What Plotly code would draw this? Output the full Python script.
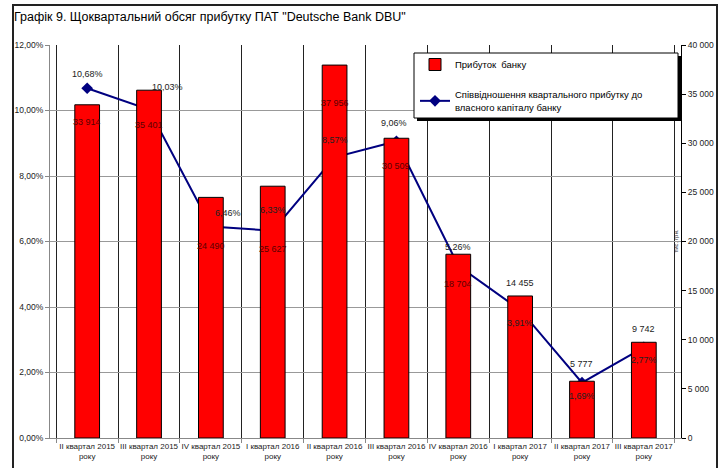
import plotly.graph_objects as go

categories = ["II квартал 2015<br>року", "III квартал 2015<br>року", "IV квартал 2015<br>року",
              "I квартал 2016<br>року", "II квартал 2016<br>року", "III квартал 2016<br>року",
              "IV квартал 2016<br>року", "I квартал 2017<br>року", "II квартал 2017<br>року",
              "III квартал 2017<br>року"]
profit = [33914, 35401, 24490, 25627, 37956, 30509, 18704, 14455, 5777, 9742]
ratio_pct = [10.68, 10.03, 6.46, 6.33, 8.57, 9.06, 5.26, 3.91, 1.69, 2.77]
ratio = [v / 100 for v in ratio_pct]

# label offsets (px) - styling only
bar_label_shift = [-17, -35, -49, -63, -38, -28, -30, 13, 17, 13]
bar_label_inside = [True] * 7 + [False] * 3
pct_label_shift = [14, 23, 13, 21, 17, 18, 19, -13, -13, -13]
pct_label_xshift = [0, 18, 17, 0, 0, -2, 0, 0, 0, 0]

FONT = "Liberation Sans"

fig = go.Figure()
fig.add_trace(go.Bar(
    x=categories, y=profit, name="Прибуток  банку", yaxis="y2",
    marker=dict(color="#FF0000", line=dict(color="#000000", width=1)),
    width=0.4, legendgroup="a", hoverinfo="y",
))
fig.add_trace(go.Scatter(
    x=categories, y=ratio, name="Співвідношення квартального прибутку до<br>власного капіталу банку",
    yaxis="y", mode="lines+markers",
    line=dict(color="#000080", width=2),
    marker=dict(symbol="diamond", size=9, color="#000080"),
    legendgroup="b",
))

def fmt_int(v):
    return f"{v:,}".replace(",", " ")

def fmt_pct(v):
    return f"{v:.2f}".replace(".", ",") + "%"

annotations = []
for i, c in enumerate(categories):
    annotations.append(dict(
        x=c, y=profit[i], xref="x", yref="y2", text=fmt_int(profit[i]),
        showarrow=False, yshift=bar_label_shift[i],
        font=dict(size=9, color="#5a0000" if bar_label_inside[i] else "#222222", family=FONT),
    ))
    annotations.append(dict(
        x=c, y=ratio[i], xref="x", yref="y", text=fmt_pct(ratio_pct[i]),
        showarrow=False, yshift=pct_label_shift[i], xshift=pct_label_xshift[i],
        font=dict(size=9, color="#222222", family=FONT),
    ))

annotations.append(dict(
    x=1, y=0.50, xref="paper", yref="paper", text="тис. грн.", textangle=-90,
    showarrow=False, xanchor="right", xshift=-1, font=dict(size=6, color="#333333", family=FONT),
))

L, R, T, B = 50, 47, 45, 30
W, H = 728, 468
pw, ph = W - L - R, H - T - B

def px_x(x):
    return (x - L) / pw

def px_y(y):
    return (H - B - y) / ph

shapes = [
    # outer frame
    dict(type="rect", xref="paper", yref="paper", x0=px_x(13), x1=px_x(717), y0=px_y(475), y1=px_y(5),
         line=dict(color="#222222", width=2), fillcolor="rgba(0,0,0,0)", layer="above"),
    # legend shadow + box
    dict(type="rect", xref="paper", yref="paper", x0=px_x(417), x1=px_x(681), y0=px_y(121), y1=px_y(56),
         line=dict(color="#000000", width=0), fillcolor="#000000", layer="above"),
    dict(type="rect", xref="paper", yref="paper", x0=px_x(414), x1=px_x(678), y0=px_y(118), y1=px_y(53),
         line=dict(color="#000000", width=1), fillcolor="#FFFFFF", layer="above"),
]

fig.update_layout(
    width=W, height=H,
    margin=dict(l=L, r=R, t=T, b=B, pad=0, autoexpand=False),
    paper_bgcolor="white", plot_bgcolor="white",
    separators=", ",
    font=dict(family=FONT, size=9, color="#222222"),
    title=dict(text='Графік 9. Щоквартальний обсяг прибутку ПАТ "Deutsche Bank DBU"',
               x=14 / W, xanchor="left", xref="container", y=1 - 17 / H, yanchor="middle",
               font=dict(size=12.5, color="#000000", family=FONT)),
    showlegend=True,
    legend=dict(x=px_x(415), y=px_y(50), xanchor="left", yanchor="top",
                bgcolor="rgba(0,0,0,0)", borderwidth=0,
                font=dict(size=9.5, color="#000000", family=FONT),
                tracegroupgap=13, itemwidth=30),
    xaxis=dict(type="category", tickson="boundaries", showgrid=True, gridcolor="#222222", gridwidth=1,
               showline=True, linecolor="#888888", ticks="outside", ticklen=4, tickcolor="#888888",
               tickfont=dict(size=8, color="#222222"), tickangle=0, automargin=False),
    yaxis=dict(range=[0, 0.12], dtick=0.02, tickformat=".2%", showgrid=True, gridcolor="#999999",
               showline=True, linecolor="#888888", ticks="outside", ticklen=4, tickcolor="#888888",
               tickfont=dict(size=8.5, color="#222222"), zeroline=False, automargin=False),
    yaxis2=dict(range=[0, 40000], dtick=5000, tickformat=",d", overlaying="y", side="right",
                showgrid=False, showline=True, linecolor="#000000", ticks="outside", ticklen=4,
                tickcolor="#000000", tickfont=dict(size=8.5, color="#222222"), zeroline=False,
                automargin=False),
    annotations=annotations,
    shapes=shapes,
)

fig.write_html("out.html", config={"displayModeBar": False},
               post_script="document.body.style.margin='0';document.body.style.overflow='hidden';")
